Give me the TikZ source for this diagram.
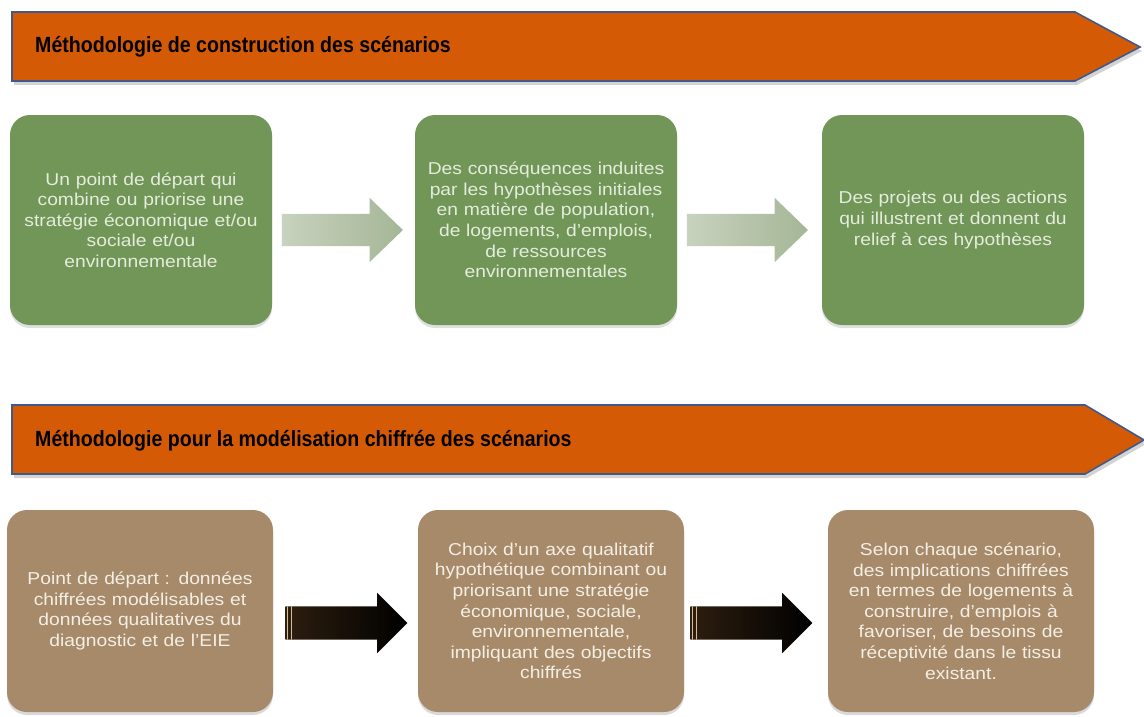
\documentclass[tikz,border=0pt]{standalone}
\usepackage{fontspec}
\setmainfont{Liberation Sans}
\newfontfamily\titlefont[FakeStretch=0.89]{Liberation Sans Bold}
\newfontfamily\boxfont[FakeStretch=1.12]{Liberation Sans}
\usetikzlibrary{shapes.arrows,shadows}
\definecolor{banner}{RGB}{213,90,5}
\definecolor{bannerline}{RGB}{63,90,138}
\definecolor{gboxc}{RGB}{113,150,88}
\definecolor{tboxc}{RGB}{166,138,106}
\definecolor{gtext}{RGB}{228,236,220}
\definecolor{ttext}{RGB}{245,238,228}
\definecolor{garrowL}{RGB}{200,210,190}
\definecolor{garrowR}{RGB}{165,182,150}
\definecolor{barrowL}{RGB}{45,30,15}
\definecolor{stripe}{RGB}{215,190,150}
\tikzset{
  bannerpath/.style={fill=banner, draw=bannerline, line width=1.6pt,
    drop shadow={opacity=0.35, shadow xshift=2pt, shadow yshift=-4pt}},
  bannertext/.style={anchor=base west, font=\titlefont\fontsize{22}{24}\selectfont, text=black, inner sep=0pt},
  gbox/.style={rounded corners=20pt, fill=gboxc, minimum width=262pt, minimum height=210pt,
    text width=255pt, align=center, text=gtext, font=\boxfont\fontsize{17.2}{20.6}\selectfont,
    drop shadow={opacity=0.25, shadow xshift=0pt, shadow yshift=-3pt}},
  tbox/.style={rounded corners=20pt, fill=tboxc, minimum width=266pt, minimum height=202pt,
    text width=258pt, align=center, text=ttext, font=\boxfont\fontsize{17.2}{20.6}\selectfont,
    drop shadow={opacity=0.3, shadow xshift=0pt, shadow yshift=-3pt}},
  garrow/.style={single arrow, left color=garrowL, right color=garrowR, draw=none,
    minimum height=121pt, inner xsep=0pt, inner ysep=16pt, single arrow head extend=16pt,
    single arrow tip angle=88},
  barrow/.style={single arrow, left color=barrowL, right color=black, draw=none,
    minimum height=122pt, inner xsep=0pt, inner ysep=16.5pt, single arrow head extend=13.5pt,
    single arrow tip angle=90,
    path picture={
      \draw[stripe, line width=1pt] ([xshift=2.5pt]path picture bounding box.south west) -- ([xshift=2.5pt]path picture bounding box.north west);
      \draw[stripe, line width=0.8pt] ([xshift=6.5pt]path picture bounding box.south west) -- ([xshift=6.5pt]path picture bounding box.north west);
    }}
}
\begin{document}
\begin{tikzpicture}[x=1pt,y=-1pt]
\useasboundingbox (0,0) rectangle (1144,717);
% banner 1
\draw[bannerpath] (12,12) -- (1075,12) -- (1140,47) -- (1075,81) -- (12,81) -- cycle;
\node[bannertext] (t1) at (35,53) {Méthodologie de construction des scénarios};
% green boxes
\node[gbox] (g1) at (141,220) {Un point de départ qui\\combine ou priorise une\\stratégie économique et/ou\\sociale et/ou\\environnementale};
\node[gbox] (g2) at (546,220) {Des conséquences induites\\par les hypothèses initiales\\en matière de population,\\de logements, d’emplois,\\de ressources\\environnementales};
\node[gbox] (g3) at (953,220) {Des projets ou des actions\\qui illustrent et donnent du\\relief à ces hypothèses};
\node[garrow] (a1) at (334,230) {};
\node[garrow] (a2) at (739,230) {};
% banner 2
\draw[bannerpath] (12,405) -- (1085,405) -- (1144,440) -- (1085,474) -- (12,474) -- cycle;
\node[bannertext] (t2) at (35,446) {Méthodologie pour la modélisation chiffrée des scénarios};
% tan boxes
\node[tbox] (b1) at (140,611) {Point de départ : données\\chiffrées modélisables et\\données qualitatives du\\diagnostic et de l’EIE};
\node[tbox] (b2) at (551,611) {Choix d’un axe qualitatif\\hypothétique combinant ou\\priorisant une stratégie\\économique, sociale,\\environnementale,\\impliquant des objectifs\\chiffrés};
\node[tbox] (b3) at (961,611) {Selon chaque scénario,\\des implications chiffrées\\en termes de logements à\\construire, d’emplois à\\favoriser, de besoins de\\réceptivité dans le tissu\\existant.};
\node[barrow] (c1) at (338,623) {};
\node[barrow] (c2) at (743,623) {};
\end{tikzpicture}
\end{document}
